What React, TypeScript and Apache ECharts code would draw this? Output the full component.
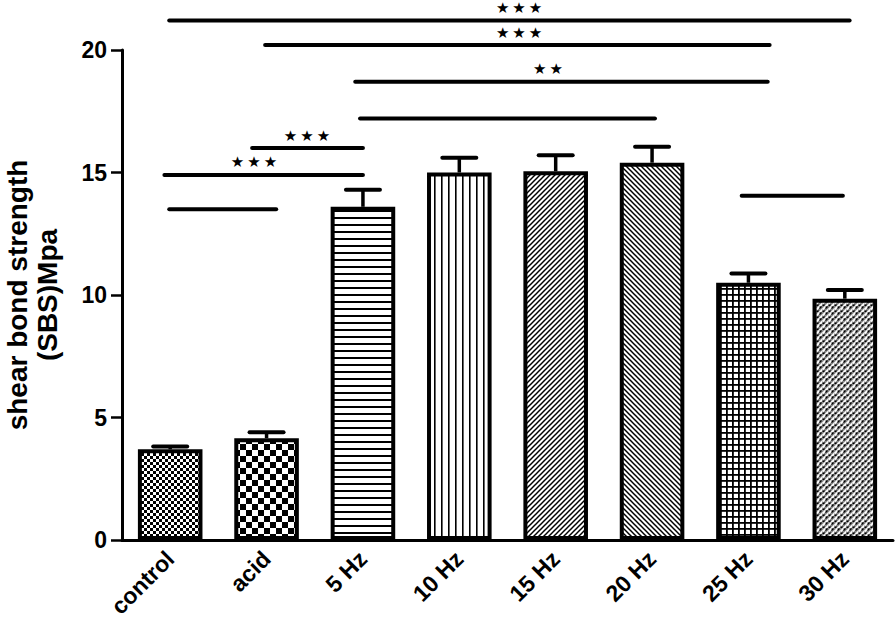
import React, { useEffect, useRef } from 'react';
import * as echarts from 'echarts';

const categories = ['control', 'acid', '5 Hz', '10 Hz', '15 Hz', '20 Hz', '25 Hz', '30 Hz'];
const means = [3.7, 4.15, 13.6, 15.0, 15.05, 15.4, 10.5, 9.85];
const sems = [0.12, 0.25, 0.7, 0.6, 0.65, 0.65, 0.38, 0.35];
const yAxisMin = 0;
const yAxisMax = 20;
const yAxisStep = 5;
const yAxisTitle = 'shear bond strength\n(SBS)Mpa';

// significance brackets (positions in category units, heights in MPa)
const bracketStart = [-0.01, 0.985, 1.92, 1.97, 0.85, -0.06, -0.01, 5.93];
const bracketEnd = [7.05, 6.22, 6.2, 5.03, 2.0, 2.0, 1.1, 6.98];
const bracketLevel = [21.2, 20.2, 18.7, 17.2, 16.0, 14.9, 13.5, 14.05];
const bracketMark = ['★★★', '★★★', '★★', '', '★★★', '★★★', '', ''];
const bracketMarkPos = [3.62, 3.62, 3.92, 0, 1.42, 0.87, 0, 0];

const patternKinds = ['fineChecker', 'bigChecker', 'hLines', 'vLines', 'diagUp', 'diagDown', 'grid', 'dashes'];

function makePattern(kind: string): HTMLCanvasElement {
  const c = document.createElement('canvas');
  let w = 6, h = 6;
  if (kind === 'bigChecker') { w = 12; h = 12; }
  if (kind === 'hLines') { w = 8; h = 7; }
  if (kind === 'vLines') { w = 7; h = 8; }
  if (kind === 'diagUp' || kind === 'diagDown') { w = 5; h = 5; }
  if (kind === 'grid') { w = 6; h = 6; }
  if (kind === 'dashes') { w = 6; h = 6; }
  c.width = w; c.height = h;
  const ctx = c.getContext('2d')!;
  ctx.fillStyle = '#fff';
  ctx.fillRect(0, 0, w, h);
  ctx.fillStyle = '#000';
  ctx.strokeStyle = '#000';
  if (kind === 'fineChecker') {
    ctx.fillRect(0, 0, 3, 3); ctx.fillRect(3, 3, 3, 3);
  } else if (kind === 'bigChecker') {
    ctx.fillRect(0, 0, 6, 6); ctx.fillRect(6, 6, 6, 6);
  } else if (kind === 'hLines') {
    ctx.fillRect(0, 0, w, 2);
  } else if (kind === 'vLines') {
    ctx.fillRect(0, 0, 1.6, h);
  } else if (kind === 'diagUp' || kind === 'diagDown') {
    ctx.lineWidth = 1.5;
    const segs = kind === 'diagUp'
      ? [[0, h, w, 0], [-1, 1, 1, -1], [w - 1, h + 1, w + 1, h - 1]]
      : [[0, 0, w, h], [-1, h - 1, 1, h + 1], [w - 1, -1, w + 1, 1]];
    segs.forEach((s) => { ctx.beginPath(); ctx.moveTo(s[0], s[1]); ctx.lineTo(s[2], s[3]); ctx.stroke(); });
  } else if (kind === 'grid') {
    ctx.fillRect(0, 0, w, 1.8); ctx.fillRect(0, 0, 1.8, h);
  } else if (kind === 'dashes') {
    ctx.fillStyle = '#888';
    ctx.fillRect(0, 0, w, h);
    ctx.lineWidth = 1.8;
    ctx.strokeStyle = '#fff';
    ctx.beginPath(); ctx.moveTo(0.5, 3.5); ctx.lineTo(3.5, 0.5); ctx.stroke();
    ctx.beginPath(); ctx.moveTo(3.5, 6.5); ctx.lineTo(6.5, 3.5); ctx.stroke();
    ctx.strokeStyle = '#000';
    ctx.lineWidth = 1.3;
    ctx.beginPath(); ctx.moveTo(0.5, 6.5); ctx.lineTo(2.5, 4.5); ctx.stroke();
    ctx.beginPath(); ctx.moveTo(3.5, 2.5); ctx.lineTo(5.5, 0.5); ctx.stroke();
  }
  return c;
}

export default function App() {
  const ref = useRef<HTMLDivElement>(null);
  useEffect(() => {
    if (!ref.current) return;
    const chart = echarts.init(ref.current, undefined, { renderer: 'svg' });
    const font = 'Arial, "Liberation Sans", Helvetica, sans-serif';
    const barData = means.map((v, i) => ({
      value: v,
      itemStyle: {
        color: { image: makePattern(patternKinds[i]), repeat: 'repeat' } as any,
      },
    }));
    chart.setOption({
      animation: false,
      backgroundColor: '#fff',
      grid: { left: 122, right: 3, top: 50, bottom: 94, containLabel: false, outerBoundsMode: 'none' } as any,
      xAxis: {
        type: 'category',
        data: categories,
        axisLine: { lineStyle: { color: '#000', width: 3 } },
        axisTick: { alignWithLabel: true, length: 8, lineStyle: { color: '#000', width: 2.5 } },
        axisLabel: { rotate: 45, margin: 15, color: '#000', fontSize: 23, fontWeight: 'bold', fontFamily: font, interval: 0 },
      },
      yAxis: {
        type: 'value',
        min: yAxisMin,
        max: yAxisMax,
        interval: yAxisStep,
        name: yAxisTitle,
        nameLocation: 'middle',
        nameRotate: 90,
        nameGap: 60,
        nameTextStyle: { color: '#000', fontSize: 28, fontWeight: 'bold', fontFamily: font, lineHeight: 30 },
        axisLine: { show: true, lineStyle: { color: '#000', width: 3 } },
        axisTick: { show: true, length: 11, lineStyle: { color: '#000', width: 2.5 } },
        axisLabel: { margin: 15, color: '#000', fontSize: 23, fontWeight: 'bold', fontFamily: font },
        splitLine: { show: false },
      },
      series: [
        {
          type: 'bar',
          data: barData,
          barWidth: '67%',
          itemStyle: { borderColor: '#000', borderWidth: 4 },
          z: 2,
        },
        {
          type: 'custom',
          z: 3,
          data: means.map((v, i) => [i, v, v + sems[i]]),
          renderItem: (params: any, api: any) => {
            const i = api.value(0);
            const lo = api.coord([i, api.value(1)]);
            const hi = api.coord([i, api.value(2)]);
            const half = 17;
            return {
              type: 'group',
              children: [
                { type: 'line', shape: { x1: lo[0], y1: lo[1], x2: hi[0], y2: hi[1] }, style: { stroke: '#000', lineWidth: 3.5 } },
                { type: 'line', shape: { x1: hi[0] - half, y1: hi[1], x2: hi[0] + half, y2: hi[1] }, style: { stroke: '#000', lineWidth: 4, lineCap: 'round' } },
              ],
            };
          },
        },
        {
          type: 'custom',
          z: 4,
          clip: false,
          data: bracketLevel.map((y) => [0, y]),
          renderItem: (params: any, api: any) => {
            const k = params.dataIndex;
            const y = bracketLevel[k];
            const a = api.coord([0, y]);
            const b = api.coord([1, y]);
            const bw = b[0] - a[0];
            const x1 = a[0] + bracketStart[k] * bw;
            const x2 = a[0] + bracketEnd[k] * bw;
            const children: any[] = [
              { type: 'line', shape: { x1, y1: a[1], x2, y2: a[1] }, style: { stroke: '#000', lineWidth: 4, lineCap: 'round' } },
            ];
            if (bracketMark[k]) {
              children.push({
                type: 'text',
                style: {
                  text: bracketMark[k].split('').join('\u2009'),
                  x: a[0] + bracketMarkPos[k] * bw,
                  y: a[1] - 5,
                  align: 'center',
                  verticalAlign: 'bottom',
                  fill: '#000',
                  font: '15px "DejaVu Sans", sans-serif',
                },
              });
            }
            return { type: 'group', children };
          },
        },
      ],
    });
    return () => chart.dispose();
  }, []);
  return <div ref={ref} style={{ position: 'fixed', left: 0, top: 0, width: 896, height: 634 }} />;
}
